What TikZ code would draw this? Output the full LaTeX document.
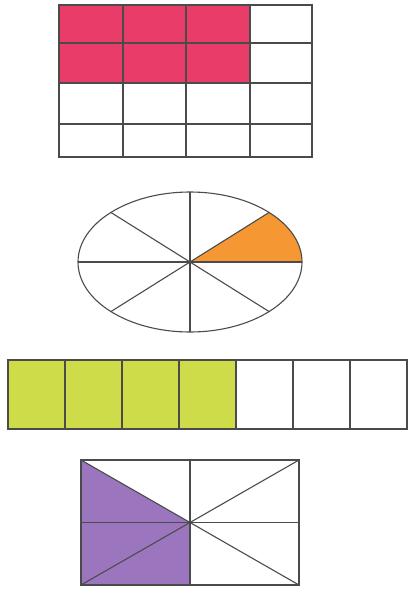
\documentclass[tikz,border=0pt]{standalone}
\usetikzlibrary{positioning}
\definecolor{pinkfill}{RGB}{234,60,104}
\definecolor{orangefill}{RGB}{245,152,52}
\definecolor{limefill}{RGB}{206,220,74}
\definecolor{purplefill}{RGB}{155,118,190}
\definecolor{edgegray}{RGB}{75,75,75}
\tikzset{part/.style={line width=1.1pt, edgegray}}

\begin{document}
\begin{tikzpicture}[x=1pt,y=-1pt]
\useasboundingbox (0,0) rectangle (409,597);

% Grid with six of sixteen cells shaded
\fill[pinkfill] (59,5) rectangle (250,83);
\foreach \x in {123,186,250} \draw[part] (\x,5) -- (\x,157);
\foreach \y in {43,83,124} \draw[part] (59,\y) -- (312,\y);
\draw[part] (59,5) rectangle (312,157);

% Ellipse cut in eight, one piece shaded
\fill[orangefill] (190,262) -- (302,262) arc[start angle=0, end angle=-45, x radius=112, y radius=70] -- cycle;
\draw[part] (190,262) ellipse [x radius=112, y radius=70];
\draw[part] (78,262) -- (302,262);
\draw[part] (190,192) -- (190,332);
\draw[part] (111,212.5) -- (269,311.5);
\draw[part] (111,311.5) -- (269,212.5);

% Strip of seven, four shaded
\fill[limefill] (8,360) rectangle (236,429);
\foreach \x in {65,122,179,236,293,350} \draw[part] (\x,360) -- (\x,429);
\draw[part] (8,360) rectangle (407,429);

% Rectangle cut in eight triangles, three shaded
\fill[purplefill] (81,460) -- (190,522.5) -- (190,585) -- (81,585) -- cycle;
\draw[part] (81,460) rectangle (299,585);
\draw[part] (190,460) -- (190,585);
\draw[part] (81,522.5) -- (299,522.5);
\draw[part] (81,460) -- (299,585);
\draw[part] (81,585) -- (299,460);
\end{tikzpicture}
\end{document}
